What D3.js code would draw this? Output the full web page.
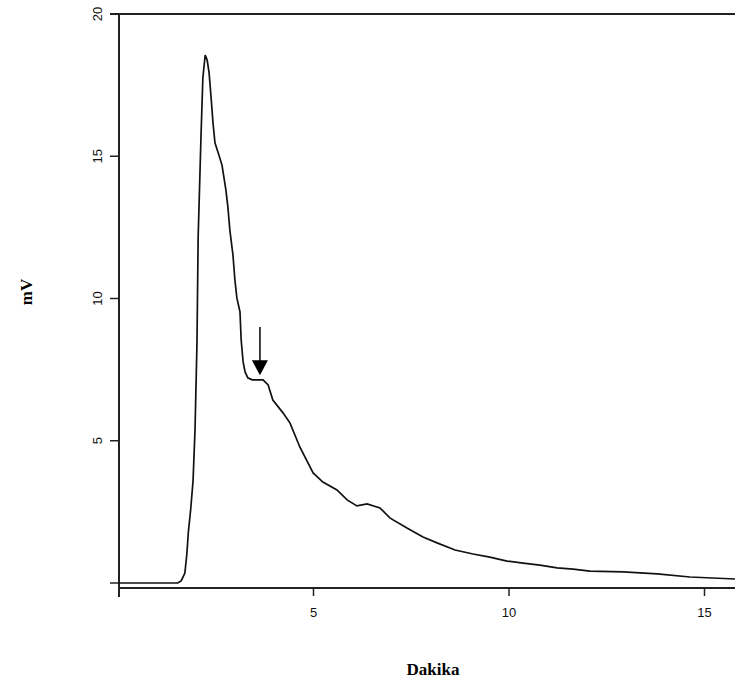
<!DOCTYPE html>
<html>
<head>
<meta charset="utf-8">
<script src="https://cdn.jsdelivr.net/npm/d3@7"></script>
<style>
  body { margin: 0; background: #fff; }
  svg { display: block; }
</style>
</head>
<body>
<svg width="735" height="691"></svg>
<script>
// trace: minutes vs mV
var times = [0, 1.53, 1.62, 1.71, 1.76, 1.80, 1.86, 1.92, 1.97, 2.02, 2.05, 2.12, 2.17, 2.23, 2.28, 2.33, 2.38, 2.43, 2.48, 2.58, 2.66, 2.76, 2.81, 2.86, 2.94, 2.99, 3.04, 3.12, 3.15, 3.20, 3.25, 3.32, 3.43, 3.71, 3.84, 3.96, 4.22, 4.40, 4.65, 4.99, 5.24, 5.60, 5.86, 6.11, 6.37, 6.70, 6.96, 7.39, 7.80, 8.16, 8.62, 9.08, 9.51, 9.95, 10.36, 10.79, 11.23, 11.64, 12.07, 12.92, 13.79, 14.63, 15.78];
var mv = [0, 0, 0.08, 0.35, 1.0, 1.8, 2.6, 3.6, 5.4, 8.44, 12.16, 15.57, 17.75, 18.56, 18.38, 17.93, 17.08, 16.17, 15.47, 15.04, 14.69, 13.81, 13.22, 12.41, 11.53, 10.65, 10.02, 9.53, 8.54, 7.77, 7.42, 7.21, 7.14, 7.14, 6.96, 6.43, 5.98, 5.62, 4.78, 3.87, 3.55, 3.27, 2.92, 2.71, 2.78, 2.64, 2.28, 1.93, 1.62, 1.41, 1.16, 1.02, 0.91, 0.77, 0.70, 0.63, 0.53, 0.49, 0.42, 0.39, 0.32, 0.21, 0.14];

var xTicks = [5, 10, 15];
var yTicks = [5, 10, 15, 20];

// arrow marking the shoulder
var arrowX = 3.63, arrowTop = 9.0, arrowTip = 7.3;

var svg = d3.select("svg");

var x = d3.scaleLinear().domain([0, 15.78]).range([118, 735]);
var y = d3.scaleLinear().domain([0, 20]).range([583, 14]);

var data = times.map(function(t, i) { return [t, mv[i]]; });

// top frame line
svg.append("line")
    .attr("x1", 110).attr("x2", 735)
    .attr("y1", y(20)).attr("y2", y(20))
    .attr("stroke", "#222").attr("stroke-width", 2);

// y axis
svg.append("line")
    .attr("x1", 119).attr("x2", 119)
    .attr("y1", y(20)).attr("y2", 597)
    .attr("stroke", "#222").attr("stroke-width", 2);

svg.selectAll(".ytick")
    .data([0].concat(yTicks))
    .enter().append("line")
    .attr("x1", 110).attr("x2", 119)
    .attr("y1", function(d) { return y(d); })
    .attr("y2", function(d) { return y(d); })
    .attr("stroke", "#222").attr("stroke-width", 1.5);

svg.selectAll(".ylab")
    .data(yTicks)
    .enter().append("text")
    .attr("transform", function(d) { return "translate(102," + y(d) + ") rotate(-90)"; })
    .attr("text-anchor", "middle")
    .attr("font-family", "Liberation Sans, Arial, sans-serif")
    .attr("font-size", 13)
    .attr("fill", "#111")
    .text(function(d) { return d; });

// x axis
svg.append("line")
    .attr("x1", 119).attr("x2", 735)
    .attr("y1", 588).attr("y2", 588)
    .attr("stroke", "#222").attr("stroke-width", 2);

svg.selectAll(".xtick")
    .data(xTicks)
    .enter().append("line")
    .attr("x1", function(d) { return x(d); })
    .attr("x2", function(d) { return x(d); })
    .attr("y1", 588).attr("y2", 596)
    .attr("stroke", "#222").attr("stroke-width", 1.5);

svg.selectAll(".xlab")
    .data(xTicks)
    .enter().append("text")
    .attr("x", function(d) { return x(d); })
    .attr("y", 617)
    .attr("text-anchor", "middle")
    .attr("font-family", "Liberation Sans, Arial, sans-serif")
    .attr("font-size", 13)
    .attr("fill", "#111")
    .text(function(d) { return d; });

// trace
var line = d3.line()
    .x(function(d) { return x(d[0]); })
    .y(function(d) { return y(d[1]); });

svg.append("path")
    .datum(data)
    .attr("d", line)
    .attr("fill", "none")
    .attr("stroke", "#111")
    .attr("stroke-width", 1.7);

// arrow
svg.append("line")
    .attr("x1", x(arrowX)).attr("x2", x(arrowX))
    .attr("y1", y(arrowTop)).attr("y2", y(arrowTip) - 12)
    .attr("stroke", "#000").attr("stroke-width", 1.5);

svg.append("path")
    .attr("d", "M" + (x(arrowX) - 8) + "," + (y(arrowTip) - 15) +
               "L" + (x(arrowX) + 8) + "," + (y(arrowTip) - 15) +
               "L" + x(arrowX) + "," + y(arrowTip) + "Z")
    .attr("fill", "#000");

// axis titles
svg.append("text")
    .attr("transform", "translate(32,292) rotate(-90)")
    .attr("text-anchor", "middle")
    .attr("font-family", "Liberation Serif, Times New Roman, serif")
    .attr("font-weight", "bold")
    .attr("font-size", 17)
    .text("mV");

svg.append("text")
    .attr("x", 433)
    .attr("y", 675)
    .attr("text-anchor", "middle")
    .attr("font-family", "Liberation Serif, Times New Roman, serif")
    .attr("font-weight", "bold")
    .attr("font-size", 17)
    .text("Dakika");
</script>
</body>
</html>
